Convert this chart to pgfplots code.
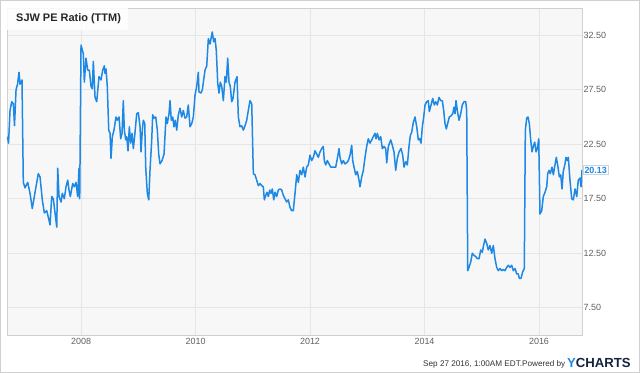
\documentclass[border=0pt]{standalone}
\usepackage{pgfplots}
\pgfplotsset{compat=1.18}
\usepackage{fontspec}
\setmainfont{Liberation Sans}
\definecolor{linec}{HTML}{1E88E5}
\definecolor{plotbg}{HTML}{F7F7F7}
\definecolor{gridc}{HTML}{E6E6E6}
\definecolor{framec}{HTML}{D0D0D0}
\definecolor{tickc}{HTML}{606060}
\definecolor{navy}{HTML}{15233F}
\definecolor{labbox}{HTML}{C8D4E0}
\begin{document}
\begin{tikzpicture}
\useasboundingbox (0,0) rectangle (640bp,373bp);
\fill[white] (0,0) rectangle (640bp,373bp);
\draw[framec, line width=1bp] (0.5bp,0.5bp) rectangle (639.5bp,372.5bp);
\begin{axis}[
  at={(7bp,38bp)}, anchor=south west,
  scale only axis, width=575bp, height=327bp,
  xmin=2006.707, xmax=2016.751, ymin=5, ymax=35,
  axis background/.style={fill=plotbg},
  axis line style={draw=framec, line width=0.8bp},
  xtick={2008,2010,2012,2014,2016},
  xticklabels={2008,2010,2012,2014,2016},
  ytick={7.5,12.5,17.5,22.5,27.5,32.5},
  yticklabels={7.50,12.50,17.50,22.50,27.50,32.50},
  yticklabel pos=right,
  major tick length=0pt,
  grid=major,
  major grid style={draw=gridc, line width=0.8bp},
  /pgf/number format/assume math mode=true,
  tick label style={font=\fontsize{9}{10}\selectfont, text=tickc},
  yticklabel style={anchor=west, inner sep=0pt, xshift=1.5bp},
  xticklabel style={anchor=north, inner sep=0pt, yshift=-3bp},
  clip mode=individual,
]
\addplot[linec, line width=1.5bp, line join=round, mark=none] coordinates {
(2006.716,23.2)(2006.734,22.6)(2006.760,25.6)(2006.790,26.4)(2006.818,26.2)(2006.838,24.2)(2006.865,27.5)(2006.891,28.0)(2006.917,29.1)(2006.934,28.0)(2006.952,28.2)(2006.969,28.4)(2006.992,19.0)(2007.022,18.5)(2007.069,19.0)(2007.109,18.0)(2007.149,16.6)(2007.197,18.1)(2007.254,19.8)(2007.284,19.5)(2007.324,17.4)(2007.359,16.2)(2007.401,16.4)(2007.429,15.8)(2007.459,15.1)(2007.488,17.7)(2007.516,17.5)(2007.546,16.2)(2007.576,14.9)(2007.593,20.3)(2007.616,17.7)(2007.651,17.2)(2007.673,18.0)(2007.708,17.5)(2007.738,18.6)(2007.768,19.2)(2007.790,18.3)(2007.813,17.7)(2007.855,18.9)(2007.883,18.6)(2007.913,19.0)(2007.942,17.7)(2007.965,20.3)(2007.977,17.5)
(2008.000,31.6)(2008.040,30.8)(2008.058,28.2)(2008.087,30.4)(2008.117,29.3)(2008.145,29.3)(2008.175,27.8)(2008.197,27.6)(2008.215,30.1)(2008.245,26.8)(2008.274,26.4)(2008.314,28.7)(2008.349,28.4)(2008.379,29.3)(2008.407,29.7)(2008.419,29.0)(2008.437,29.4)(2008.459,27.8)(2008.484,23.8)(2008.507,23.5)(2008.524,21.2)(2008.547,23.2)(2008.576,23.8)(2008.611,25.0)(2008.634,24.7)(2008.664,25.0)(2008.693,23.0)(2008.716,23.5)(2008.739,26.5)(2008.756,23.8)(2008.781,22.9)(2008.798,23.2)(2008.821,21.9)(2008.844,24.1)(2008.868,22.6)(2008.891,23.5)(2008.914,22.1)(2008.938,23.3)(2008.973,25.3)
(2009.001,25.4)(2009.031,24.1)(2009.048,21.8)(2009.071,23.8)(2009.088,24.7)(2009.113,24.4)(2009.130,20.4)(2009.158,18.0)(2009.183,17.4)(2009.205,20.1)(2009.235,22.9)(2009.252,25.2)(2009.275,24.9)(2009.305,25.0)(2009.333,23.8)(2009.357,21.6)(2009.380,20.7)(2009.415,21.0)(2009.450,21.6)(2009.472,23.8)(2009.485,25.0)(2009.507,24.4)(2009.537,25.3)(2009.555,26.5)(2009.577,24.7)(2009.602,25.0)(2009.624,24.1)(2009.647,24.7)(2009.672,23.8)(2009.700,25.2)(2009.729,25.8)(2009.759,25.0)(2009.787,25.6)(2009.817,24.9)(2009.846,25.0)(2009.874,26.1)(2009.904,24.1)(2009.934,24.4)(2009.962,25.0)(2009.991,27.0)
(2010.021,27.8)(2010.049,29.1)(2010.061,27.3)(2010.096,27.2)(2010.119,27.5)(2010.166,29.3)(2010.196,29.7)(2010.224,32.2)(2010.253,31.7)(2010.293,32.8)(2010.318,31.9)(2010.341,32.2)(2010.363,31.1)(2010.388,28.1)(2010.410,27.2)(2010.433,28.2)(2010.458,27.8)(2010.486,26.5)(2010.515,28.7)(2010.538,28.2)(2010.562,30.4)(2010.585,28.2)(2010.608,27.8)(2010.632,26.4)(2010.655,26.7)(2010.690,28.2)(2010.725,28.7)(2010.748,25.0)(2010.777,24.1)(2010.807,24.2)(2010.835,23.8)(2010.865,24.2)(2010.894,24.7)(2010.922,25.6)(2010.952,26.5)(2010.982,26.2)
(2011.010,19.8)(2011.039,19.7)(2011.069,19.2)(2011.097,18.7)(2011.127,18.9)(2011.156,18.7)(2011.184,18.6)(2011.202,17.4)(2011.226,17.8)(2011.249,18.1)(2011.272,17.7)(2011.296,18.3)(2011.319,18.0)(2011.342,18.4)(2011.366,17.4)(2011.389,18.1)(2011.418,17.7)(2011.446,18.3)(2011.476,18.4)(2011.506,18.3)(2011.534,17.8)(2011.563,17.5)(2011.593,17.2)(2011.621,17.4)(2011.651,16.7)(2011.680,16.4)(2011.708,16.4)(2011.738,18.0)(2011.768,19.7)(2011.796,19.0)(2011.825,20.1)(2011.855,19.7)(2011.883,20.4)(2011.913,19.5)(2011.942,20.4)(2011.970,20.6)
(2012.000,21.5)(2012.030,21.0)(2012.058,21.3)(2012.087,21.9)(2012.117,21.6)(2012.145,21.3)(2012.175,21.8)(2012.204,22.1)(2012.232,22.3)(2012.250,21.0)(2012.274,20.6)(2012.302,21.0)(2012.332,20.7)(2012.362,20.4)(2012.407,20.4)(2012.449,20.4)(2012.477,21.2)(2012.507,22.1)(2012.524,21.3)(2012.554,20.7)(2012.582,21.0)(2012.611,20.7)(2012.641,20.8)(2012.669,21.0)(2012.699,21.5)(2012.728,22.4)(2012.746,21.0)(2012.769,20.4)(2012.798,19.7)(2012.826,20.0)(2012.856,19.2)(2012.873,18.6)(2012.903,19.5)(2012.931,20.1)(2012.961,21.3)(2012.990,22.3)
(2013.018,23.0)(2013.048,22.6)(2013.078,22.9)(2013.106,23.2)(2013.135,23.5)(2013.153,23.0)(2013.176,23.5)(2013.205,22.9)(2013.235,23.2)(2013.263,22.1)(2013.293,22.3)(2013.322,22.1)(2013.340,20.8)(2013.368,22.3)(2013.410,22.9)(2013.438,22.4)(2013.467,21.8)(2013.497,20.1)(2013.525,21.2)(2013.555,21.8)(2013.590,22.1)(2013.619,21.5)(2013.642,20.4)(2013.672,20.9)(2013.700,20.6)(2013.729,22.3)(2013.752,23.3)(2013.776,23.6)(2013.804,24.5)(2013.834,25.0)(2013.864,24.1)(2013.892,22.9)(2013.916,23.0)(2013.939,22.6)(2013.962,24.1)(2013.986,25.0)
(2014.009,26.1)(2014.038,26.4)(2014.066,26.5)(2014.084,25.5)(2014.114,26.1)(2014.143,26.7)(2014.171,26.1)(2014.196,26.4)(2014.224,26.1)(2014.253,26.8)(2014.283,26.5)(2014.311,26.5)(2014.335,25.6)(2014.358,24.4)(2014.381,23.9)(2014.405,24.4)(2014.433,25.0)(2014.463,25.1)(2014.493,25.3)(2014.515,25.9)(2014.533,25.3)(2014.550,26.5)(2014.573,25.6)(2014.603,24.7)(2014.632,25.3)(2014.660,26.1)(2014.690,26.4)(2014.720,26.4)(2014.737,25.6)(2014.755,10.9)(2014.777,11.2)(2014.807,11.7)(2014.835,12.5)(2014.865,12.3)(2014.894,12.2)(2014.922,12.0)(2014.952,12.0)(2014.982,12.8)
(2015.010,12.6)(2015.027,13.1)(2015.057,13.8)(2015.087,13.4)(2015.114,12.8)(2015.144,13.2)(2015.174,12.5)(2015.202,13.2)(2015.231,12.0)(2015.261,11.2)(2015.289,10.9)(2015.319,11.1)(2015.349,10.9)(2015.376,11.0)(2015.406,10.9)(2015.436,11.2)(2015.464,11.4)(2015.493,11.2)(2015.523,11.4)(2015.551,10.9)(2015.581,11.1)(2015.611,10.6)(2015.638,10.6)(2015.656,10.2)(2015.686,10.2)(2015.715,10.8)(2015.743,11.1)(2015.761,23.8)(2015.785,24.9)(2015.808,25.0)(2015.831,24.4)(2015.855,22.9)(2015.878,21.8)(2015.900,22.3)(2015.925,22.7)(2015.948,21.8)(2015.970,22.1)(2015.995,23.0)
(2016.017,16.1)(2016.047,16.4)(2016.075,17.7)(2016.105,18.1)(2016.135,18.6)(2016.152,19.8)(2016.175,20.1)(2016.197,19.8)(2016.227,20.4)(2016.250,19.7)(2016.279,20.6)(2016.302,21.3)(2016.332,20.4)(2016.355,19.5)(2016.379,19.7)(2016.402,18.4)(2016.424,20.0)(2016.454,20.7)(2016.472,21.3)(2016.494,21.0)(2016.512,21.3)(2016.541,19.2)(2016.571,17.5)(2016.599,17.4)(2016.629,18.4)(2016.659,17.7)(2016.686,19.2)(2016.716,19.4)(2016.734,18.6)(2016.751,20.13)
};
\node[anchor=west, draw=labbox, fill=white, text=linec, inner sep=1.2bp, line width=0.6bp,
      font=\bfseries\fontsize{9}{10}\selectfont, xshift=1bp] at (axis cs:2016.751,20.13) {20.13};
\end{axis}
\fill[white, opacity=0.85] (7.4bp,343bp) rectangle (128bp,364.6bp);
\node[anchor=base west, inner sep=0pt, text=black!85, font=\bfseries\fontsize{11}{12}\selectfont] at (16bp,351bp) {SJW PE Ratio (TTM)};
\node[anchor=base west, inner sep=0pt, text=black!80, font=\fontsize{8.2}{9}\selectfont] at (423bp,6.3bp) {Sep 27 2016, 1:00AM EDT.Powered by};
\node[anchor=base west, inner sep=0pt, font=\bfseries\fontsize{13.2}{14}\selectfont] at (567bp,5.7bp) {\textcolor{linec}{Y}\textcolor{navy}{CHARTS}};
\end{tikzpicture}
\end{document}
